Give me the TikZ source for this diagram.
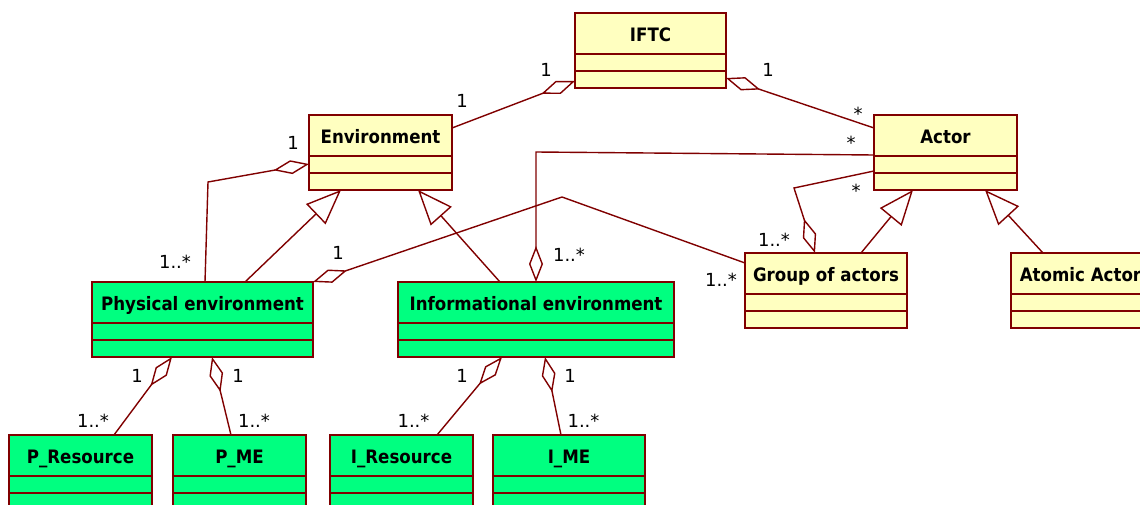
\documentclass[tikz,border=0pt]{standalone}
\usepackage{fontspec}
\setmainfont{DejaVu Sans}
\newfontfamily\clsfont[FakeStretch=0.9]{DejaVu Sans}
\usetikzlibrary{arrows.meta,calc}
\definecolor{umlline}{RGB}{128,0,0}
\definecolor{umlyel}{RGB}{255,255,192}
\definecolor{umlgrn}{RGB}{0,255,128}
\tikzset{
  clsbox/.style={draw=umlline, line width=1.4pt, minimum height=75pt, anchor=north west, inner sep=0pt, outer sep=0pt},
  clstitle/.style={font=\clsfont\fontsize{18.5}{22}\selectfont\bfseries, inner sep=0pt, anchor=base},
  cline/.style={draw=umlline, line width=1.4pt, line join=miter},
  mult/.style={font=\fontsize{18}{20}\selectfont, inner sep=0pt, anchor=base},
  agg/.style={cline, {Diamond[open, fill=white, length=36pt, width=14pt]}-},
  gen/.style={cline, -{Triangle[open, fill=white, length=35pt, width=28pt]}},
}
\newcommand\umlcls[6]{%
  \node[clsbox, fill=#5, minimum width=#4pt] (#1) at (#2,#3) {};
  \node[clstitle] (#1t) at ([yshift=-28.5pt]#1.north) {#6};
  \draw[cline] ([yshift=-41pt]#1.north west) -- ([yshift=-41pt]#1.north east);
  \draw[cline] ([yshift=-58pt]#1.north west) -- ([yshift=-58pt]#1.north east);
}
\begin{document}
\begin{tikzpicture}[x=1pt, y=-1pt]
\useasboundingbox (0,0) rectangle (1140,505);
\fill[white] (0,0) rectangle (1140,505);
\clip (0,0) rectangle (1140,505);

% classes
\umlcls{iftc}{575}{13}{151}{umlyel}{IFTC}
\umlcls{env}{309}{115}{143}{umlyel}{Environment}
\umlcls{actor}{874}{115}{143}{umlyel}{Actor}
\umlcls{phys}{92}{282}{221}{umlgrn}{Physical environment}
\umlcls{info}{398}{282}{276}{umlgrn}{Informational environment}
\umlcls{group}{745}{253}{162}{umlyel}{Group of actors}
\umlcls{atomic}{1011}{253}{139}{umlyel}{Atomic Actor}
\umlcls{pres}{9}{435}{143}{umlgrn}{P\_Resource}
\umlcls{pme}{173}{435}{133}{umlgrn}{P\_ME}
\umlcls{ires}{330}{435}{143}{umlgrn}{I\_Resource}
\umlcls{ime}{493}{435}{152}{umlgrn}{I\_ME}

% bend points
\coordinate (bendC) at (536,152);
\coordinate (bendD) at (794,188);
\coordinate (bendE) at (562,197);
\coordinate (bendF) at (208,182);

% aggregations
\draw[agg] ([yshift=-68pt]iftc.north west) -- ([yshift=-13pt]env.north east);
\draw[agg] ([yshift=-65pt]iftc.north east) -- ([yshift=-13pt]actor.north west);
\draw[agg] ([xshift=138pt]info.north west) -- (bendC) -- ([yshift=-40pt]actor.north west);
\draw[agg] ([xshift=70pt]group.north west) -- (bendD) -- ([yshift=-56pt]actor.north west);
\draw[agg] (phys.north east) -- (bendE) -- ([yshift=-10pt]group.north west);
\draw[agg] ([yshift=-49pt]env.north west) -- (bendF) -- ([xshift=113pt]phys.north west);
\draw[agg] ([xshift=80pt]phys.south west) -- ([xshift=105pt]pres.north west);
\draw[agg] ([xshift=120pt]phys.south west) -- ([xshift=58pt]pme.north west);
\draw[agg] ([xshift=104pt]info.south west) -- ([xshift=107pt]ires.north west);
\draw[agg] ([xshift=147pt]info.south west) -- ([xshift=68pt]ime.north west);

% generalizations
\draw[gen] ([xshift=153pt]phys.north west) -- ([xshift=32pt]env.south west);
\draw[gen] ([xshift=102pt]info.north west) -- ([xshift=109pt]env.south west);
\draw[gen] ([xshift=116pt]group.north west) -- ([xshift=39pt]actor.south west);
\draw[gen] ([xshift=32pt]atomic.north west) -- ([xshift=111pt]actor.south west);

% multiplicities
\node[mult] (m1) at (546,77) {1};
\node[mult] (m2) at (462,108) {1};
\node[mult] (m3) at (768,77) {1};
\node[mult] (m4) at (858,121) {*};
\node[mult] (m5) at (851,150) {*};
\node[mult] (m6) at (856,197) {*};
\node[mult] (m7) at (774,246) {1..*};
\node[mult] (m8) at (721,286) {1..*};
\node[mult] (m9) at (569,261) {1..*};
\node[mult] (m10) at (338,259) {1};
\node[mult] (m11) at (175,268) {1..*};
\node[mult] (m12) at (293,150) {1};
\node[mult] (m13) at (137,382) {1};
\node[mult] (m14) at (93,427) {1..*};
\node[mult] (m15) at (238,382) {1};
\node[mult] (m16) at (254,427) {1..*};
\node[mult] (m17) at (462,382) {1};
\node[mult] (m18) at (413.5,427) {1..*};
\node[mult] (m19) at (570,382) {1};
\node[mult] (m20) at (583.5,427) {1..*};
\end{tikzpicture}
\end{document}
